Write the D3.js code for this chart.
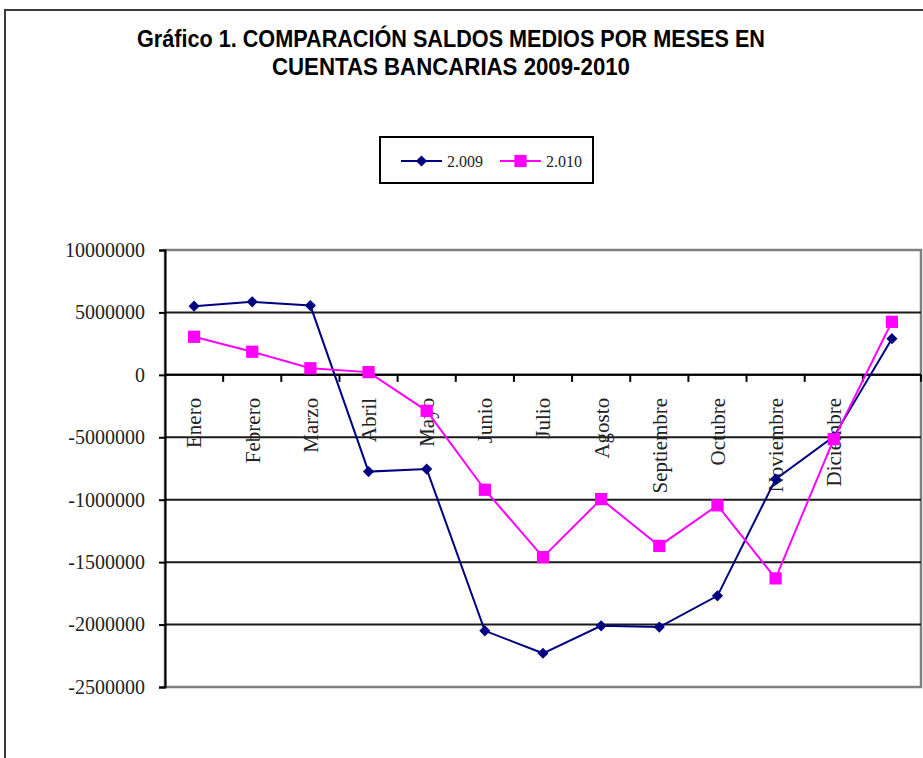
<!DOCTYPE html>
<html>
<head>
<meta charset="utf-8">
<script src="https://cdn.jsdelivr.net/npm/d3@7"></script>
<style>
  body { margin: 0; background: #fff; }
</style>
</head>
<body>
<div id="chart"></div>
<script>
// datos
var meses = ["Enero", "Febrero", "Marzo", "Abril", "Mayo", "Junio", "Julio",
  "Agosto", "Septiembre", "Octubre", "Noviembre", "Diciembre", ""];
var saldos2009 = [5500000, 5850000, 5550000, -7750000, -7550000, -20500000, -22300000,
  -20100000, -20200000, -17700000, -8350000, -4950000, 2900000];
var saldos2010 = [3050000, 1850000, 530000, 220000, -2880000, -9200000, -14600000,
  -9950000, -13700000, -10450000, -16300000, -5150000, 4250000];
var tickValores = [10000000, 5000000, 0, -5000000, -10000000, -15000000, -20000000, -25000000];
var tickTextos = ["10000000", "5000000", "0", "-5000000", "-1000000", "-1500000", "-2000000", "-2500000"];
var nombresSeries = ["2.009", "2.010"];

var width = 923, height = 758;
var plot = { left: 165, top: 250, right: 921, bottom: 687 };
var serif = "'Liberation Serif', 'Times New Roman', serif";

var svg = d3.select("#chart").append("svg")
  .attr("width", width)
  .attr("height", height)
  .style("display", "block");

// marco exterior del grafico
svg.append("rect")
  .attr("x", 5).attr("y", 10)
  .attr("width", width + 20).attr("height", height + 20)
  .attr("fill", "none")
  .attr("stroke", "#3a3a3a")
  .attr("stroke-width", 2);

// titulo
var titulo = ["Gráfico 1. COMPARACIÓN SALDOS MEDIOS POR MESES EN", "CUENTAS BANCARIAS 2009-2010"];
var anchos = [628, 358];
svg.selectAll("text.titulo")
  .data(titulo)
  .join("text")
  .attr("class", "titulo")
  .attr("x", 451)
  .attr("y", (d, i) => 47 + i * 28)
  .attr("text-anchor", "middle")
  .attr("textLength", (d, i) => anchos[i])
  .attr("lengthAdjust", "spacingAndGlyphs")
  .style("font-family", "'Liberation Sans Narrow', 'Liberation Sans', Arial, sans-serif")
  .style("font-weight", "bold")
  .style("font-size", "23px")
  .style("fill", "#000")
  .text(d => d);

var x = d3.scaleBand()
  .domain(d3.range(meses.length))
  .range([plot.left, plot.right])
  .padding(0);

var y = d3.scaleLinear()
  .domain([-25000000, 10000000])
  .range([plot.bottom, plot.top]);

// borde del area de trazado
svg.append("rect")
  .attr("x", plot.left).attr("y", plot.top)
  .attr("width", plot.right - plot.left)
  .attr("height", plot.bottom - plot.top)
  .attr("fill", "#fff")
  .attr("stroke", "#808080")
  .attr("stroke-width", 2.5);

// lineas de division
svg.append("g")
  .selectAll("line")
  .data(tickValores.filter(v => v < 10000000 && v > -25000000))
  .join("line")
  .attr("x1", plot.left).attr("x2", plot.right)
  .attr("y1", d => y(d)).attr("y2", d => y(d))
  .attr("stroke", "#1a1a1a")
  .attr("stroke-width", 2);

// eje vertical
var ejeY = svg.append("g")
  .attr("transform", `translate(${plot.left},0)`)
  .call(d3.axisLeft(y)
    .tickValues(tickValores)
    .tickFormat((d, i) => tickTextos[i])
    .tickSize(6)
    .tickPadding(14));
ejeY.select(".domain").attr("stroke", "#000").attr("stroke-width", 2);
ejeY.selectAll(".tick line").attr("stroke", "#000").attr("stroke-width", 2);
ejeY.selectAll(".tick text")
  .style("font-family", serif)
  .style("font-size", "20px")
  .style("fill", "#222");

// eje de categorias en el cero
var ejeX = svg.append("g")
  .attr("transform", `translate(0,${y(0)})`);
ejeX.append("line")
  .attr("x1", plot.left).attr("x2", plot.right)
  .attr("stroke", "#000").attr("stroke-width", 2);
ejeX.selectAll("line.tick")
  .data(d3.range(1, meses.length + 1))
  .join("line")
  .attr("class", "tick")
  .attr("x1", d => plot.left + d * x.bandwidth())
  .attr("x2", d => plot.left + d * x.bandwidth())
  .attr("y1", 0).attr("y2", 7)
  .attr("stroke", "#000").attr("stroke-width", 2);
ejeX.selectAll("text")
  .data(meses)
  .join("text")
  .attr("transform", (d, i) => `translate(${x(i) + x.bandwidth() / 2},23) rotate(-90)`)
  .attr("dy", "0.35em")
  .attr("text-anchor", "end")
  .style("font-family", serif)
  .style("font-size", "21px")
  .style("fill", "#222")
  .text(d => d);

var linea = d3.line()
  .x((d, i) => x(i) + x.bandwidth() / 2)
  .y(d => y(d));

var colores = ["#000080", "#ff00ff"];
var simbolos = [
  d3.symbol().type(d3.symbolSquare).size(62),
  d3.symbol().type(d3.symbolSquare).size(150)
];
var giros = [45, 0];

[saldos2009, saldos2010].forEach(function (datos, s) {
  svg.append("path")
    .datum(datos)
    .attr("d", linea)
    .attr("fill", "none")
    .attr("stroke", colores[s])
    .attr("stroke-width", 2);
});

[saldos2009, saldos2010].forEach(function (datos, s) {
  svg.append("g")
    .selectAll("path")
    .data(datos)
    .join("path")
    .attr("d", simbolos[s])
    .attr("transform", (d, i) => `translate(${x(i) + x.bandwidth() / 2},${y(d)}) rotate(${giros[s]})`)
    .attr("fill", colores[s]);
});

// leyenda
var leyenda = svg.append("g").attr("transform", "translate(380,137)");
leyenda.append("rect")
  .attr("width", 213).attr("height", 46)
  .attr("fill", "#fff")
  .attr("stroke", "#000")
  .attr("stroke-width", 2);
var items = leyenda.selectAll("g")
  .data(nombresSeries)
  .join("g")
  .attr("transform", (d, i) => `translate(${21 + i * 99},24)`);
items.append("line")
  .attr("x1", 0).attr("x2", 41)
  .attr("stroke", (d, i) => colores[i])
  .attr("stroke-width", 2);
items.append("path")
  .attr("d", (d, i) => simbolos[i]())
  .attr("transform", (d, i) => `translate(20.5,0) rotate(${giros[i]})`)
  .attr("fill", (d, i) => colores[i]);
items.append("text")
  .attr("x", 46)
  .attr("dy", "0.35em")
  .style("font-family", serif)
  .style("font-size", "16px")
  .style("fill", "#222")
  .text(d => d);
</script>
</body>
</html>
